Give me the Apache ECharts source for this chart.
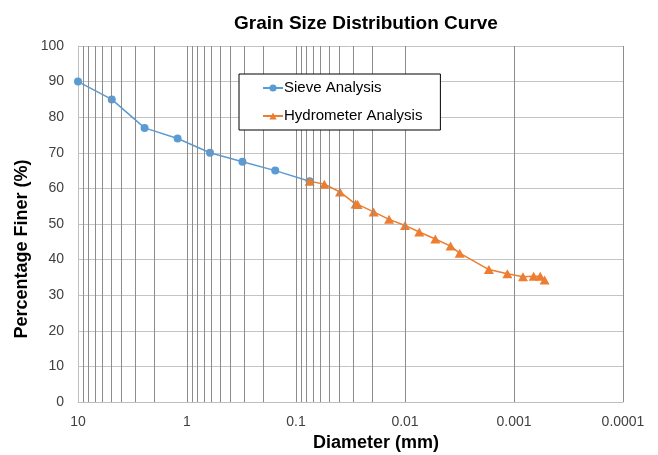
<!DOCTYPE html>
<html>
<head>
<meta charset="utf-8">
<script src="https://cdn.jsdelivr.net/npm/echarts@6/dist/echarts.min.js"></script>
<style>
  html, body { margin: 0; padding: 0; background: #fff; }
  #chart { width: 658px; height: 455px; }
</style>
</head>
<body>
<div id="chart"></div>
<script>
// Sieve analysis: particle diameter (mm) and percentage finer
const sieveDiameter = [10, 4.9, 2.45, 1.22, 0.615, 0.31, 0.155, 0.075];
const sievePercent  = [90, 85, 77, 74, 70, 67.5, 65, 62];

// Hydrometer analysis: particle diameter (mm) and percentage finer
const hydroDiameter = [0.075, 0.055, 0.0395, 0.0284, 0.0272, 0.0194, 0.014, 0.01,
                       0.0074, 0.00527, 0.00382, 0.00315, 0.0017, 0.00115,
                       0.000827, 0.000661, 0.000574, 0.000524];
const hydroPercent  = [62, 61.2, 59, 55.6, 55.5, 53.4, 51.3, 49.6,
                       47.75, 45.8, 43.8, 41.8, 37.2, 36,
                       35.2, 35.3, 35.3, 34.3];

// Decade tick labels on the diameter axis
const xTickLabels = ['10', '1', '0.1', '0.01', '0.001', '0.0001'];

// Silt / clay boundary (mm)
const clayLimit = 0.002;

// Intermediate log grid lines: 2..9 x 10^k
const minorGrid = [];
for (let k = -4; k <= 0; k++) {
  for (let m = 2; m <= 9; m++) {
    minorGrid.push(parseFloat((m * Math.pow(10, k)).toPrecision(3)));
  }
}

const pairs = (xs, ys) => xs.map((x, i) => [x, ys[i]]);

const chart = echarts.init(document.getElementById('chart'), null, { renderer: 'canvas' });

const fontFamily = '"Liberation Sans", Arial, sans-serif';

chart.setOption({
  animation: false,
  backgroundColor: '#ffffff',
  textStyle: { fontFamily: fontFamily },
  title: {
    text: 'Grain Size Distribution Curve',
    left: 229,
    top: 9,
    textStyle: { fontSize: 19, fontWeight: 'bold', color: '#000', fontFamily: fontFamily }
  },
  grid: { left: 78, right: 35, top: 46, bottom: 53, containLabel: false },
  legend: {
    orient: 'vertical',
    left: 239,
    top: 74,
    z: 20,
    padding: [6, 18, 6, 23],
    itemWidth: 20,
    itemHeight: 9,
    itemGap: 12,
    borderColor: '#000',
    borderWidth: 1,
    backgroundColor: '#ffffff',
    data: ['Sieve Analysis', 'Hydrometer Analysis'],
    textStyle: { fontSize: 15, color: '#000', lineHeight: 16, height: 16, padding: [0, 0, 0, -4], fontFamily: fontFamily }
  },
  xAxis: {
    type: 'log',
    logBase: 10,
    min: 0.0001,
    max: 10,
    inverse: true,
    axisLine: { show: true, lineStyle: { color: '#bfbfbf', width: 1 } },
    axisTick: { show: false },
    axisLabel: {
      fontSize: 14,
      color: '#404040',
      margin: 13,
      formatter: function (v) {
        const idx = Math.round(1 - Math.log10(v));
        return xTickLabels[idx] !== undefined ? xTickLabels[idx] : '';
      }
    },
    splitLine: { show: true, lineStyle: { color: '#8c8c8c', width: 1 } }
  },
  yAxis: {
    type: 'value',
    min: 0,
    max: 100,
    interval: 10,
    axisLine: { show: true, lineStyle: { color: '#bfbfbf', width: 1 } },
    axisTick: { show: false },
    axisLabel: { fontSize: 14, color: '#404040', margin: 14 },
    splitLine: { show: true, lineStyle: { color: '#c4c4c4', width: 1 } }
  },
  graphic: [
    {
      type: 'text',
      x: 376, y: 443,
      style: {
        text: 'Diameter (mm)',
        align: 'center', verticalAlign: 'middle',
        font: 'bold 18px ' + fontFamily,
        fill: '#000'
      }
    },
    {
      type: 'text',
      x: 22, y: 249,
      rotation: Math.PI / 2,
      style: {
        text: 'Percentage Finer (%)',
        align: 'center', verticalAlign: 'middle',
        font: 'bold 18px ' + fontFamily,
        fill: '#000'
      }
    }
  ],
  series: [
    {
      name: 'grid-minor',
      type: 'line',
      data: [],
      z: 1,
      silent: true,
      markLine: {
        silent: true,
        symbol: ['none', 'none'],
        label: { show: false },
        animation: false,
        lineStyle: { color: '#8c8c8c', width: 1, type: 'solid' },
        emphasis: { disabled: true },
        data: minorGrid.map(v => ({ xAxis: v }))
      }
    },
    {
      name: 'clay-limit',
      type: 'line',
      data: [],
      z: 2,
      silent: true,
      markLine: {
        silent: true,
        symbol: ['none', 'none'],
        label: { show: false },
        animation: false,
        lineStyle: { color: '#7a7a7a', width: 1.2, type: [9, 3, 2, 3] },
        emphasis: { disabled: true },
        data: [{ xAxis: clayLimit }]
      }
    },
    {
      name: 'Sieve Analysis',
      type: 'line',
      z: 3,
      data: pairs(sieveDiameter, sievePercent),
      symbol: 'circle',
      symbolSize: 8,
      color: '#5B9BD5',
      itemStyle: { color: '#5B9BD5' },
      lineStyle: { color: '#5B9BD5', width: 1.5 }
    },
    {
      name: 'Hydrometer Analysis',
      type: 'line',
      z: 4,
      data: pairs(hydroDiameter, hydroPercent),
      symbol: 'triangle',
      symbolSize: [10, 9],
      color: '#ED7D31',
      itemStyle: { color: '#ED7D31' },
      lineStyle: { color: '#ED7D31', width: 1.5 }
    }
  ]
});
</script>
</body>
</html>
